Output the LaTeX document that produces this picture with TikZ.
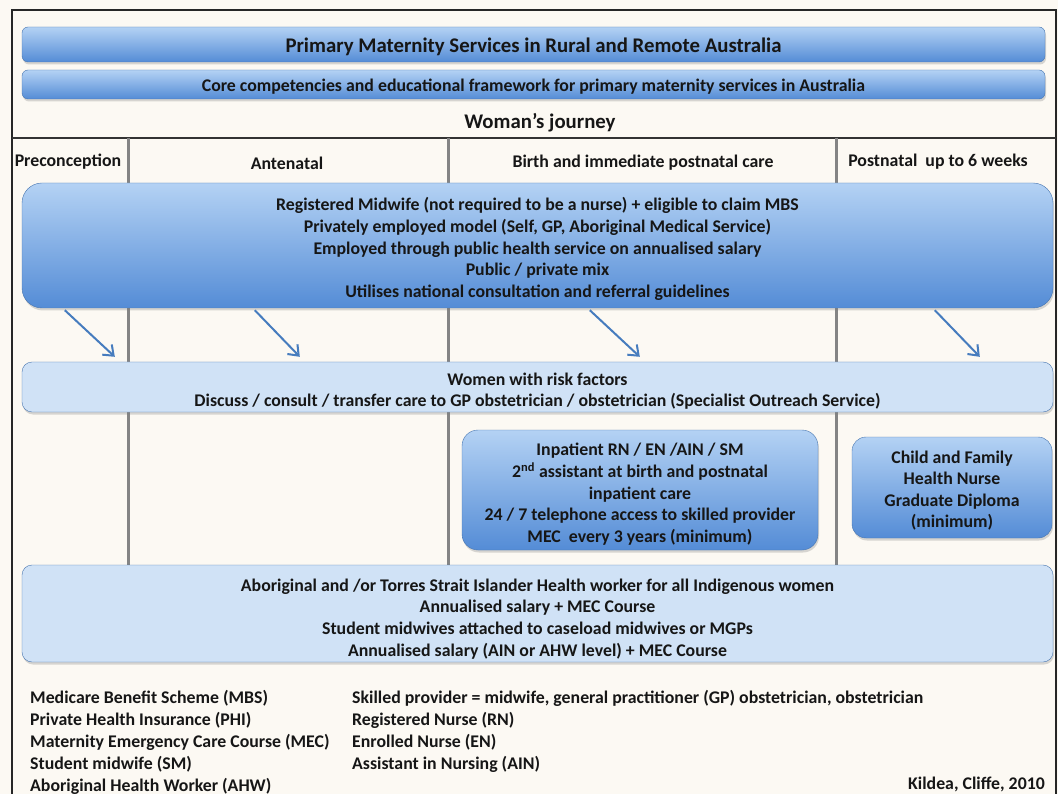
\documentclass[tikz,border=0pt]{standalone}
\usepackage{fontspec}
\setmainfont{Carlito}
\usetikzlibrary{arrows.meta,calc,shadows}

\definecolor{paper}{RGB}{252,249,243}
\definecolor{bluetop}{RGB}{180,210,244}
\definecolor{bluebot}{RGB}{84,140,214}
\definecolor{paleblue}{RGB}{208,226,246}
\definecolor{edgeblue}{RGB}{72,118,176}
\definecolor{arrowblue}{RGB}{70,124,190}
\definecolor{divgray}{RGB}{132,132,132}
\definecolor{ink}{RGB}{22,22,22}
% strut on a first line, to sit the text a little lower in its box
\newcommand\lift[1]{\rule{0pt}{#1}}

\begin{document}
\begin{tikzpicture}[x=1pt,y=-1pt,
  txt/.style={font={\fontsize{17.8}{21.7}\selectfont\bfseries},text=ink,align=center,inner sep=0pt},
  big/.style={font={\fontsize{20.8}{24}\selectfont\bfseries}},
  push/.style={execute at begin node={\rule{0pt}{#1}}},
  shade/.style={drop shadow={opacity=0.3,shadow xshift=1pt,shadow yshift=-2.5pt}},
  bar/.style={txt,draw=edgeblue,rounded corners=6pt,top color=bluetop,bottom color=bluebot,minimum width=1023pt,shade},
  darkbox/.style={txt,draw=edgeblue,top color=bluetop,bottom color=bluebot,shade},
  palebox/.style={txt,draw=edgeblue,fill=paleblue,rounded corners=10pt,minimum width=1031pt,shade},
  flow/.style={draw=arrowblue,line width=2pt,-{Straight Barb[length=9pt,width=14pt,line width=2pt]}},
  divider/.style={draw=divgray,line width=3pt},
  legend/.style={font={\fontsize{17.8}{22}\selectfont\bfseries},text=ink,align=left,inner sep=0pt}
]
\fill[paper] (0,0) rectangle (1058,794);
\clip (0,0) rectangle (1058,794);
\draw[line width=1.8pt,black!85] (12,820) -- (12,10) -- (1056,10) -- (1056,820);
\draw[line width=1.3pt,black!80] (12,138) -- (1056,138);

% phase dividers, behind the boxes
\foreach \x in {128,448,836}
  \draw[divider] (\x,138) -- (\x,565);

\node[bar,big,push=18.6pt,minimum height=35pt] (title) at (533.5,44.5)
  {Primary Maternity Services in Rural and Remote Australia};
\node[bar,push=16.5pt,minimum height=29pt] (core) at (533.5,84.5)
  {Core competencies and educational framework for primary maternity services in Australia};
\node[txt,big] (journey) at (540,123) {Woman's journey};

\node[txt] (pre) at (68,162) {Preconception};
\node[txt] (ante) at (287,163) {Antenatal};
\node[txt] (birth) at (643,163) {Birth and immediate postnatal care};
\node[txt] (post) at (938,162) {Postnatal\ \ up to 6 weeks};

\node[darkbox,rounded corners=20pt,minimum width=1031pt,minimum height=125pt] (mw) at (537.5,245.5)
  {\lift{20.5pt}Registered Midwife (not required to be a nurse) + eligible to claim MBS\\
   Privately employed model (Self, GP, Aboriginal Medical Service)\\
   Employed through public health service on annualised salary\\
   Public / private mix\\
   Utilises national consultation and referral guidelines};

\node[palebox,minimum height=50pt] (risk) at (537.5,387)
  {\lift{20.5pt}Women with risk factors\\[-0.7pt]
   Discuss / consult / transfer care to GP obstetrician / obstetrician (Specialist Outreach Service)};

\foreach \a/\b in {43/93,233/278,568/618,913/958}
  \draw[flow] ($(mw.south west)+(\a,2)$) -- ($(risk.north west)+(\b,-5)$);

\node[darkbox,rounded corners=16pt,minimum width=356pt,minimum height=120pt] (inpat) at (640,490)
  {\lift{21pt}Inpatient RN / EN /AIN / SM\\
   2\textsuperscript{nd} assistant at birth and postnatal\\
   inpatient care\\
   24 / 7 telephone access to skilled provider\\
   MEC\ \ every 3 years (minimum)};
\node[darkbox,rounded corners=14pt,minimum width=200pt,minimum height=101pt,font={\fontsize{17.8}{21.3}\selectfont\bfseries}] (child) at (952,487.5)
  {\lift{18.5pt}Child and Family\\ Health Nurse\\ Graduate Diploma\\ (minimum)};

\node[palebox,minimum height=97pt] (aborig) at (537.5,613.5)
  {\lift{23.4pt}Aboriginal and /or Torres Strait Islander Health worker for all Indigenous women\\
   Annualised salary + MEC Course\\
   Student midwives attached to caseload midwives or MGPs\\
   Annualised salary (AIN or AHW level) + MEC Course};

\node[legend,anchor=north west] (abbrA) at (30,690)
  {Medicare Benefit Scheme (MBS)\\ Private Health Insurance (PHI)\\ Maternity Emergency Care Course (MEC)\\
   Student midwife (SM)\\ Aboriginal Health Worker (AHW)};
\node[legend,anchor=north west] (abbrB) at (352,690)
  {Skilled provider = midwife, general practitioner (GP) obstetrician, obstetrician\\
   Registered Nurse (RN)\\ Enrolled Nurse (EN)\\ Assistant in Nursing (AIN)};
\node[legend,anchor=east] (credit) at (1045,784) {Kildea, Cliffe, 2010};
\end{tikzpicture}
\end{document}
